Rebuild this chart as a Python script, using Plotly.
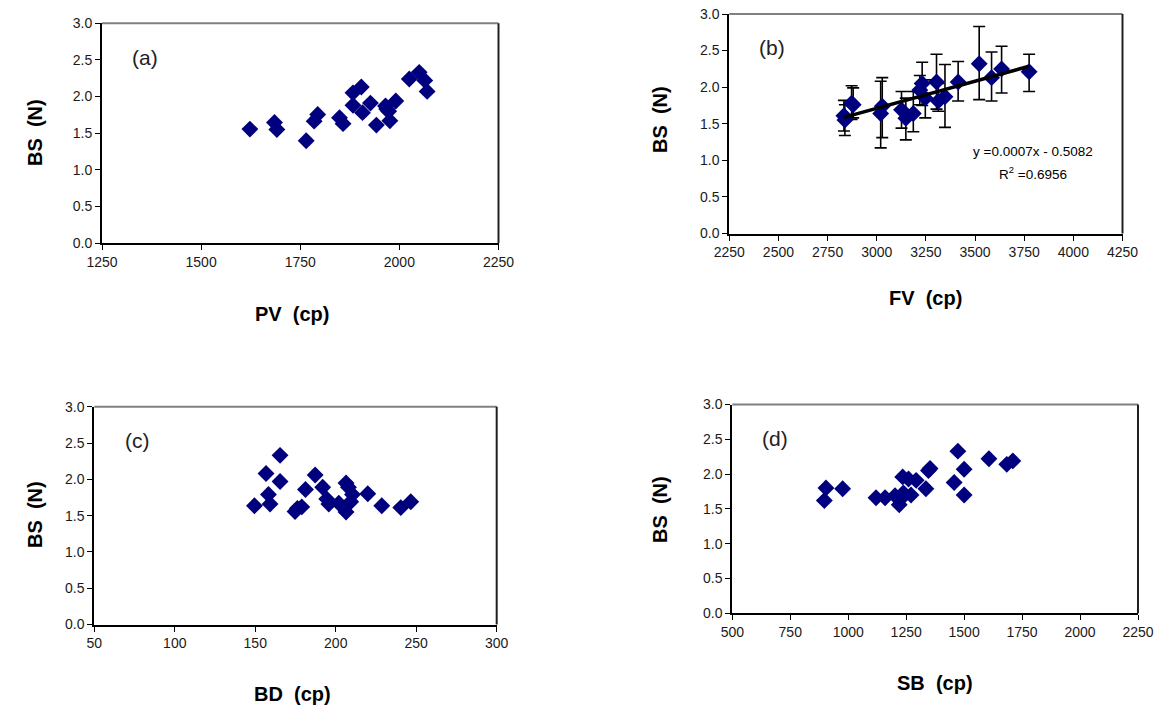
import numpy as np
import plotly.graph_objects as go

W, H = 1167, 711

# ---- data ----
pv = [1623, 1685, 1691, 1765, 1785, 1794, 1849, 1858, 1883, 1904, 1883, 1907, 1927, 1942,
      1965, 1973, 1976, 1991, 2025, 2050, 2064, 2070, 1968]
bs_a = [1.555, 1.646, 1.55, 1.396, 1.664, 1.755, 1.71, 1.63, 2.05, 2.13, 1.88, 1.78, 1.91, 1.61,
        1.87, 1.80, 1.67, 1.94, 2.24, 2.33, 2.22, 2.07, 1.83]

fv = [2833, 2838, 2872, 2880, 3020, 3028, 3126, 3148, 3186, 3219, 3231, 3247, 3304, 3313,
      3347, 3414, 3521, 3584, 3635, 3775]
bs_b = [1.61, 1.55, 1.78, 1.76, 1.64, 1.74, 1.69, 1.575, 1.64, 1.96, 2.05, 1.85, 2.07, 1.81,
        1.87, 2.07, 2.32, 2.13, 2.25, 2.21]
bs_b_hi = [1.82, 1.76, 2.02, 1.99, 2.08, 2.13, 1.94, 1.85, 1.94, 2.16, 2.34, 2.10, 2.45, 2.05,
           2.31, 2.35, 2.83, 2.48, 2.56, 2.45]
bs_b_lo = [1.40, 1.34, 1.56, 1.58, 1.17, 1.31, 1.44, 1.28, 1.39, 1.76, 1.75, 1.58, 1.70, 1.67,
           1.45, 1.81, 1.83, 1.81, 1.92, 1.94]
eq_text = "y =0.0007x - 0.5082"
r2_text = "R<sup>2</sup> =0.6956"

bd = [149.5, 156.7, 158.2, 159.2, 165.4, 165.4, 174.7, 176.2, 178.9, 181.2, 187.2, 191.9,
      194.4, 195.7, 201.9, 206.4, 207.9, 206.4, 209.3, 210.4, 219.9, 228.6, 240.4, 246.6]
bs_c = [1.635, 2.08, 1.79, 1.66, 2.33, 1.97, 1.557, 1.60, 1.62, 1.86, 2.06, 1.89,
        1.73, 1.66, 1.67, 1.95, 1.89, 1.55, 1.69, 1.79, 1.80, 1.635, 1.61, 1.69]

sb = [897, 904, 976, 1120, 1159, 1202, 1220, 1235, 1238, 1260, 1271, 1293, 1335, 1346, 1353,
      1457, 1473, 1500, 1500, 1607, 1684, 1710, 1225]
bs_d = [1.62, 1.80, 1.79, 1.66, 1.66, 1.69, 1.56, 1.96, 1.73, 1.93, 1.70, 1.91, 1.79, 2.05, 2.08,
        1.88, 2.33, 2.07, 1.70, 2.22, 2.14, 2.19, 1.64]

y_ticks = [0.0, 0.5, 1.0, 1.5, 2.0, 2.5, 3.0]
ticks_a = [1250, 1500, 1750, 2000, 2250]
ticks_b = [2250, 2500, 2750, 3000, 3250, 3500, 3750, 4000, 4250]
ticks_c = [50, 100, 150, 200, 250, 300]
ticks_d = [500, 750, 1000, 1250, 1500, 1750, 2000, 2250]

# ---- layout geometry (pixels) ----
panels = {
    "a": dict(box=(102, 498.5, 23.3, 243), xt=ticks_a, xlab="PV  (cp)", xlab_pos=(292, 314), ylab_pos=(35, 133)),
    "b": dict(box=(729.3, 1122.5, 14, 233.5), xt=ticks_b, xlab="FV  (cp)", xlab_pos=(925, 298), ylab_pos=(660, 120)),
    "c": dict(box=(94.3, 496.7, 406.7, 624.5), xt=ticks_c, xlab="BD  (cp)", xlab_pos=(292, 694), ylab_pos=(35, 515)),
    "d": dict(box=(732.3, 1138, 404.5, 613.3), xt=ticks_d, xlab="SB  (cp)", xlab_pos=(935, 683), ylab_pos=(660, 510)),
}

fig = go.Figure()
navy = "#00007f"
marker = dict(symbol="diamond", size=13, color=navy)

fig.add_trace(go.Scatter(x=pv, y=bs_a, mode="markers", marker=marker, xaxis="x", yaxis="y", showlegend=False))
fig.add_trace(go.Scatter(
    x=fv, y=bs_b, mode="markers", marker=marker, xaxis="x2", yaxis="y2", showlegend=False,
    error_y=dict(type="data", symmetric=False,
                 array=[h - v for h, v in zip(bs_b_hi, bs_b)],
                 arrayminus=[v - l for l, v in zip(bs_b_lo, bs_b)],
                 color="black", thickness=1.6, width=6)))
coef = np.polyfit(fv, bs_b, 1)
xl = np.array([min(fv), max(fv)])
fig.add_trace(go.Scatter(x=xl, y=np.polyval(coef, xl), mode="lines", line=dict(color="black", width=3.5),
                         xaxis="x2", yaxis="y2", showlegend=False))
fig.add_trace(go.Scatter(x=bd, y=bs_c, mode="markers", marker=marker, xaxis="x3", yaxis="y3", showlegend=False))
fig.add_trace(go.Scatter(x=sb, y=bs_d, mode="markers", marker=marker, xaxis="x4", yaxis="y4", showlegend=False))

tickfont = dict(family="Liberation Sans, Arial, sans-serif", size=14, color="#1a1a1a")
layout = dict(width=W, height=H, margin=dict(l=0, r=0, t=0, b=0, autoexpand=False),
              paper_bgcolor="white", plot_bgcolor="white", showlegend=False)
annotations = []
shapes = []
ctr = dict(xanchor="center", yanchor="middle", showarrow=False, xref="paper", yref="paper")
for i, (key, p) in enumerate(panels.items()):
    x0, x1, y0, y1 = p["box"]
    sx = "" if i == 0 else str(i + 1)
    xt = p["xt"]
    layout["xaxis" + sx] = dict(
        domain=[x0 / W, x1 / W], anchor="y" + sx, range=[xt[0], xt[-1]], tickvals=xt,
        ticktext=[str(t) for t in xt], showgrid=False, zeroline=False, showline=True,
        linecolor="black", linewidth=2, ticks="outside", ticklen=5, tickcolor="black",
        tickwidth=1, tickfont=tickfont, fixedrange=True, automargin=False)
    layout["yaxis" + sx] = dict(
        domain=[1 - y1 / H, 1 - y0 / H], anchor="x" + sx, range=[0, 3], tickvals=y_ticks,
        ticktext=[f"{v:.1f}" for v in y_ticks], showgrid=False, zeroline=False, showline=True,
        linecolor="black", linewidth=2, ticks="outside", ticklen=5, tickcolor="black",
        tickwidth=1, tickfont=tickfont, fixedrange=True, automargin=False)
    xr = "x" + sx + " domain"
    yr = "y" + sx + " domain"
    shapes.append(dict(type="line", xref=xr, yref=yr, x0=0, x1=1, y0=1, y1=1,
                       line=dict(color="#808080", width=2)))
    shapes.append(dict(type="line", xref=xr, yref=yr, x0=1, x1=1, y0=0, y1=1,
                       line=dict(color="#202020", width=2)))
    annotations.append(dict(text=f"({key})", x=(x0 + 43) / W, y=1 - (y0 + 34) / H,
                            font=dict(family="Liberation Sans, Arial", size=21, color="#222"), **ctr))
    annotations.append(dict(text="<b>" + p["xlab"] + "</b>",
                            x=p["xlab_pos"][0] / W, y=1 - p["xlab_pos"][1] / H,
                            font=dict(family="Liberation Sans, Arial", size=20, color="black"), **ctr))
    annotations.append(dict(text="<b>BS  (N)</b>", textangle=-90,
                            x=p["ylab_pos"][0] / W, y=1 - p["ylab_pos"][1] / H,
                            font=dict(family="Liberation Sans, Arial", size=20, color="black"), **ctr))

annotations.append(dict(text=eq_text, x=1033 / W, y=1 - 151 / H,
                        font=dict(family="Liberation Sans, Arial", size=13.5, color="black"), **ctr))
annotations.append(dict(text=r2_text, x=1033 / W, y=1 - 173 / H,
                        font=dict(family="Liberation Sans, Arial", size=13.5, color="black"), **ctr))

layout["annotations"] = annotations
layout["shapes"] = shapes
fig.update_layout(**layout)
fig.write_html("out.html", config={"displayModeBar": False},
               post_script="document.body.style.margin='0px';document.body.style.overflow='hidden';")
